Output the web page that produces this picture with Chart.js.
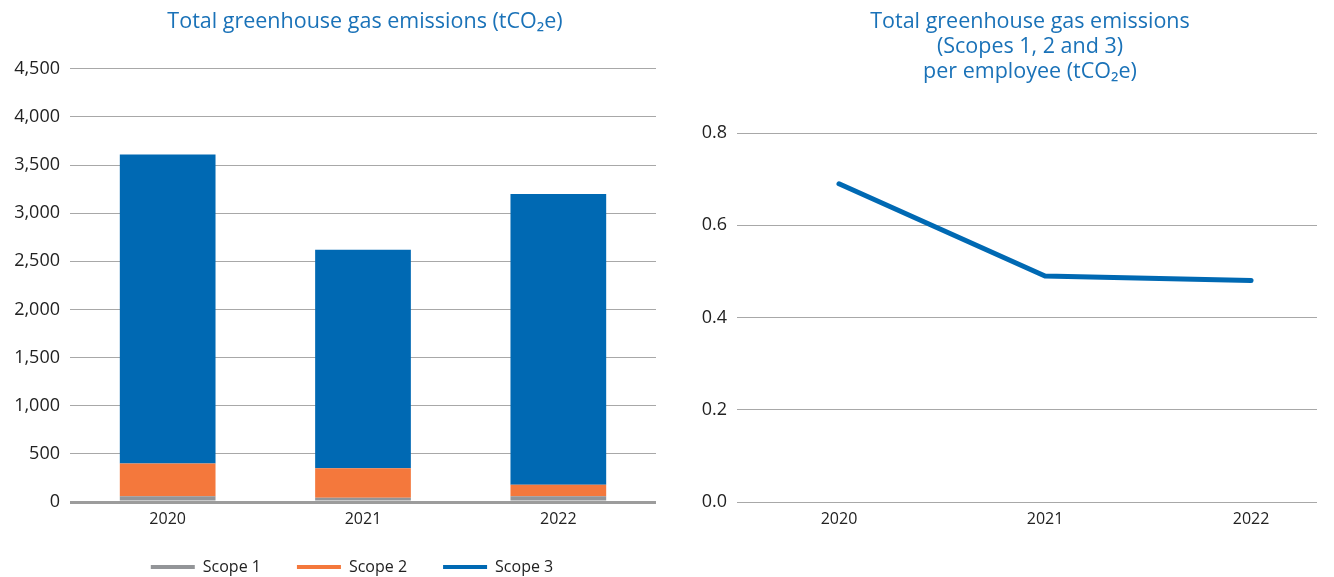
<!DOCTYPE html>
<html>
<head>
<meta charset="utf-8">
<script src="https://cdn.jsdelivr.net/npm/chart.js@4/dist/chart.umd.min.js"></script>
<style>
  html, body { margin: 0; padding: 0; background: #fff; overflow: hidden; }
  body { width: 1334px; height: 577px; position: relative; }
  .box { position: absolute; top: 0; }
  #leftBox { left: 0; width: 730px; height: 594px; }
  #rightBox { left: 690px; width: 680px; height: 577px; }
</style>
</head>
<body>
<div class="box" id="leftBox"><canvas id="totalChart"></canvas></div>
<div class="box" id="rightBox"><canvas id="perEmployeeChart"></canvas></div>
<script>
/* ---------------- data ---------------- */
const years = ['2020', '2021', '2022'];
const scope1 = [60, 45, 60];
const scope2 = [340, 305, 120];
const scope3 = [3210, 2270, 3020];
const perEmployee = [0.69, 0.49, 0.48];
const totalTicks = [0, 500, 1000, 1500, 2000, 2500, 3000, 3500, 4000, 4500];
const perEmployeeTicks = [0, 0.2, 0.4, 0.6, 0.8];

const FONT = '"Open Sans", "Noto Sans", sans-serif';
const TITLE_BLUE = '#1a72b8';
const GRID = '#a8a8a8';
const TEXT = '#222';

Chart.defaults.font.family = FONT;
Chart.defaults.color = TEXT;
Chart.defaults.animation = false;

// empty axis used only to reserve room on the right, so the title stays centred
const spacerAxis = (w) => ({
  type: 'linear',
  position: 'right',
  display: true,
  grid: { display: false },
  border: { display: false },
  ticks: { display: false },
  afterFit: s => { s.width = w; }
});

// nudge the legend a little left and up from where the layout puts it
const shiftLegend = {
  id: 'shiftLegend',
  afterLayout(chart) {
    const lg = chart.legend;
    if (!lg) return;
    lg.left -= 13; lg.right -= 13;
    lg.top -= 9; lg.bottom -= 9;
  }
};

/* ---------------- stacked bars: total emissions ---------------- */
new Chart(document.getElementById('totalChart'), {
  type: 'bar',
  data: {
    labels: years,
    datasets: [
      { label: 'Scope 1', data: scope1, backgroundColor: '#939598' },
      { label: 'Scope 2', data: scope2, backgroundColor: '#f4783c' },
      { label: 'Scope 3', data: scope3, backgroundColor: '#0069b3' }
    ]
  },
  plugins: [shiftLegend],
  options: {
    responsive: true,
    maintainAspectRatio: false,
    locale: 'en-US',
    layout: { padding: 0 },
    datasets: { bar: { categoryPercentage: 1, barPercentage: 0.49, borderWidth: 0 } },
    plugins: {
      tooltip: { enabled: false },
      title: {
        display: true,
        text: 'Total greenhouse gas emissions (tCO₂e)',
        color: TITLE_BLUE,
        font: { size: 21.5, weight: 'normal', lineHeight: 1.2 },
        padding: { top: 9, bottom: 34 }
      },
      legend: {
        position: 'bottom',
        labels: {
          boxWidth: 44, boxHeight: 4, padding: 36,
          font: { size: 16 }, color: TEXT
        }
      }
    },
    scales: {
      x: {
        stacked: true,
        grid: { display: false, drawTicks: false },
        border: { display: false },
        ticks: { font: { size: 16 }, padding: 8 },
        afterFit: s => { s.height = 30; }
      },
      y: {
        stacked: true,
        min: 0, max: 4500,
        afterBuildTicks: s => { s.ticks = totalTicks.map(v => ({ value: v })); },
        afterFit: s => { s.width = 70; },
        border: { display: false },
        grid: {
          drawTicks: false,
          color: ctx => ctx.tick && ctx.tick.value === 0 ? '#9c9c9c' : GRID,
          lineWidth: ctx => ctx.tick && ctx.tick.value === 0 ? 3 : 1
        },
        ticks: { font: { size: 18 }, padding: 10 }
      },
      spacer: spacerAxis(74)
    }
  }
});

/* ---------------- line: per employee ---------------- */
new Chart(document.getElementById('perEmployeeChart'), {
  type: 'line',
  data: {
    datasets: [{
      label: 'Per employee',
      data: years.map((y, i) => ({ x: Number(y), y: perEmployee[i] })),
      borderColor: '#0069b3',
      borderWidth: 5,
      borderCapStyle: 'round',
      pointRadius: 0,
      tension: 0,
      fill: false
    }]
  },
  options: {
    responsive: true,
    maintainAspectRatio: false,
    layout: { padding: 0 },
    plugins: {
      tooltip: { enabled: false },
      legend: { display: false },
      title: {
        display: true,
        text: ['Total greenhouse gas emissions', '(Scopes 1, 2 and 3)', 'per employee (tCO₂e)'],
        color: TITLE_BLUE,
        font: { size: 21.5, weight: 'normal', lineHeight: 1.16 },
        padding: { top: 9.5, bottom: 48.7 }
      }
    },
    scales: {
      x: {
        type: 'linear',
        min: 2019.505, max: 2022.32,
        afterBuildTicks: s => { s.ticks = years.map(v => ({ value: Number(v) })); },
        grid: { display: false, drawTicks: false },
        border: { display: false },
        ticks: { font: { size: 16 }, padding: 8, callback: v => String(v) },
        afterFit: s => { s.height = 75; }
      },
      y: {
        min: 0, max: 0.8,
        afterBuildTicks: s => { s.ticks = perEmployeeTicks.map(v => ({ value: v })); },
        afterFit: s => { s.width = 47; },
        border: { display: false },
        grid: { drawTicks: false, color: GRID, lineWidth: 1 },
        ticks: { font: { size: 18 }, padding: 10, callback: v => Number(v).toFixed(1) }
      },
      spacer: spacerAxis(53)
    }
  }
});
</script>
</body>
</html>
